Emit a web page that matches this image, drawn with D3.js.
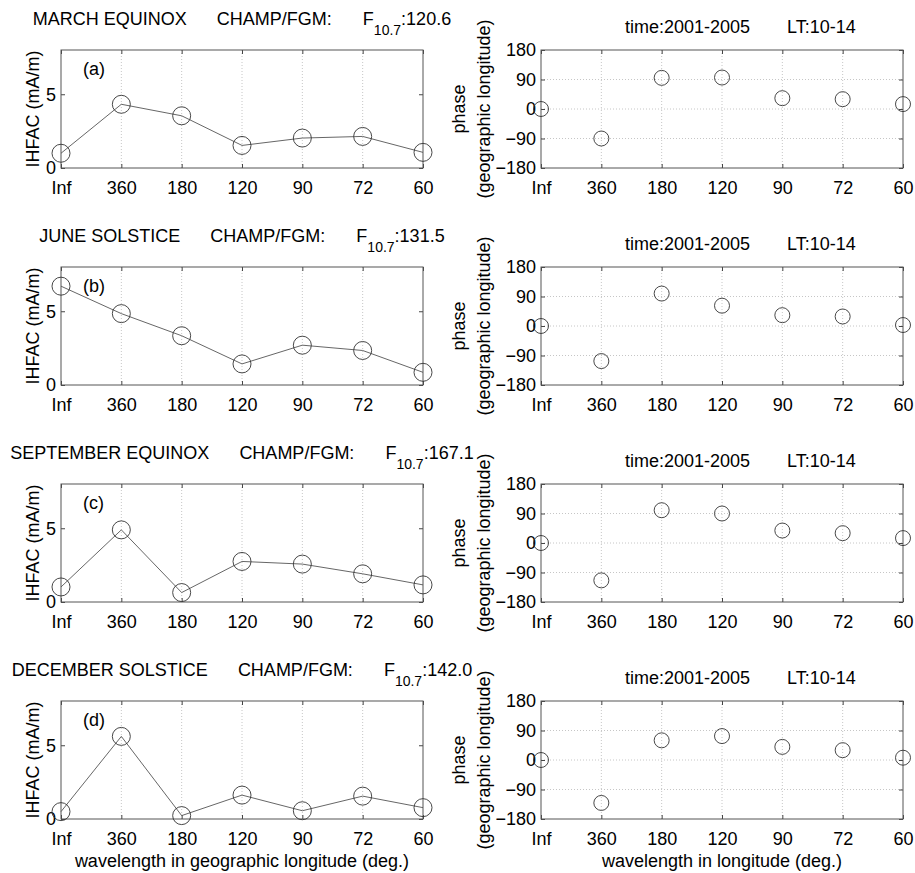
<!DOCTYPE html>
<html>
<head>
<meta charset="utf-8">
<script src="https://cdn.jsdelivr.net/npm/d3@7/dist/d3.min.js"></script>
<style>
  html, body { margin: 0; padding: 0; background: #fff; }
  svg text { font-family: "Liberation Sans", Arial, Helvetica, sans-serif; fill: #000; }
</style>
</head>
<body>
<svg id="chart" width="915" height="873"></svg>
<script>
// ---------------- data ----------------
const categories = ["Inf", "360", "180", "120", "90", "72", "60"];
const seasons = ["MARCH EQUINOX", "JUNE SOLSTICE", "SEPTEMBER EQUINOX", "DECEMBER SOLSTICE"];
const f107Values = ["120.6", "131.5", "167.1", "142.0"];
const panelLetters = ["(a)", "(b)", "(c)", "(d)"];
const ihfacMarch = [1.0, 4.32, 3.54, 1.53, 2.03, 2.14, 1.06];
const ihfacJune = [6.7, 4.84, 3.34, 1.43, 2.7, 2.34, 0.86];
const ihfacSeptember = [1.02, 4.89, 0.64, 2.75, 2.57, 1.91, 1.16];
const ihfacDecember = [0.5, 5.6, 0.23, 1.62, 0.56, 1.55, 0.77];
const phaseMarch = [0, -90, 95, 96, 33, 30, 15];
const phaseJune = [0, -107, 99, 62, 33, 29, 3];
const phaseSeptember = [0, -114, 100, 90, 38, 30, 15];
const phaseDecember = [0, -131, 60, 73, 40, 30, 7];
const ihfacTicks = [0, 5];
const phaseTicks = [-180, -90, 0, 90, 180];
const ihfacDomain = [0, 8];
const phaseDomain = [-180, 180];
const instrumentLabel = "CHAMP/FGM:";
const timeLabel = "time:2001-2005";
const ltLabel = "LT:10-14";
const ihfacAxisLabel = "IHFAC (mA/m)";
const phaseAxisLabel = ["phase", "(geographic longitude)"];
const leftXLabel = "wavelength in geographic longitude (deg.)";
const rightXLabel = "wavelength in longitude (deg.)";

const ihfacSeries = [ihfacMarch, ihfacJune, ihfacSeptember, ihfacDecember];
const phaseSeries = [phaseMarch, phaseJune, phaseSeptember, phaseDecember];

// ---------------- layout ----------------
const FS = 18;
const left = { x0: 61, x1: 423 };
const right = { x0: 541, x1: 903 };
const tops = [50, 267, 484, 701];
const PH = 118;
const titleCenter = (left.x0 + left.x1) / 2;

const svg = d3.select("#chart");

const xLeft = d3.scalePoint().domain(categories).range([left.x0, left.x1]).padding(0);
const xRight = d3.scalePoint().domain(categories).range([right.x0, right.x1]).padding(0);

function drawPanel(g, x, y, yTicks, gridY, x0, x1, top) {
  const bottom = top + PH;
  const grid = g.append("g").attr("stroke", "#b8b8b8").attr("stroke-width", 0.8).attr("stroke-dasharray", "1,2");
  categories.slice(1, -1).forEach(c => {
    grid.append("line").attr("x1", x(c)).attr("x2", x(c)).attr("y1", top).attr("y2", bottom);
  });
  if (gridY) {
    yTicks.slice(1, -1).forEach(t => {
      grid.append("line").attr("x1", x0).attr("x2", x1).attr("y1", y(t)).attr("y2", y(t));
    });
  }
  const ax = g.append("g").attr("transform", `translate(0,${bottom})`)
    .call(d3.axisBottom(x).tickSizeInner(-4).tickSizeOuter(0).tickPadding(13));
  const ay = g.append("g").attr("transform", `translate(${x0},0)`)
    .call(d3.axisLeft(y).tickValues(yTicks).tickSizeInner(-4).tickSizeOuter(0).tickPadding(5));
  const at = g.append("g").attr("transform", `translate(0,${top})`)
    .call(d3.axisTop(x).tickSizeInner(-4).tickSizeOuter(0).tickFormat(""));
  const ar = g.append("g").attr("transform", `translate(${x1},0)`)
    .call(d3.axisRight(y).tickValues(yTicks).tickSizeInner(-4).tickSizeOuter(0).tickFormat(""));
  [ax, ay, at, ar].forEach(a => {
    a.select(".domain").remove();
    a.selectAll("line").attr("stroke", "#444");
    a.selectAll("text").attr("font-size", FS).attr("font-family", null).attr("fill", "#000");
  });
  g.append("rect").attr("x", x0).attr("y", top).attr("width", x1 - x0).attr("height", PH)
    .attr("fill", "none").attr("stroke", "#555").attr("stroke-width", 1);
}

for (let i = 0; i < 4; i++) {
  const top = tops[i];
  const bottom = top + PH;

  // ---- left panel (IHFAC) ----
  const yL = d3.scaleLinear().domain(ihfacDomain).range([bottom, top]);
  const gL = svg.append("g");
  drawPanel(gL, xLeft, yL, ihfacTicks, false, left.x0, left.x1, top);
  const data = categories.map((c, k) => ({ c, v: ihfacSeries[i][k] }));
  gL.append("path").datum(data)
    .attr("d", d3.line().x(d => xLeft(d.c)).y(d => yL(d.v)))
    .attr("fill", "none").attr("stroke", "#555").attr("stroke-width", 0.9);
  gL.selectAll("circle.m").data(data).join("circle")
    .attr("cx", d => xLeft(d.c)).attr("cy", d => yL(d.v)).attr("r", 9)
    .attr("fill", "none").attr("stroke", "#333").attr("stroke-width", 0.9);
  gL.append("text").attr("x", left.x0 + 22).attr("y", top + 25).attr("font-size", FS).text(panelLetters[i]);
  gL.append("text")
    .attr("transform", `translate(39,${(top + bottom) / 2}) rotate(-90)`)
    .attr("text-anchor", "middle").attr("font-size", FS).text(ihfacAxisLabel);

  // title
  const t = svg.append("text").attr("x", titleCenter).attr("y", top - 25)
    .attr("text-anchor", "middle").attr("font-size", FS);
  t.append("tspan").text(seasons[i]);
  t.append("tspan").attr("dx", 30).text(instrumentLabel);
  t.append("tspan").attr("dx", 31).text("F");
  t.append("tspan").attr("font-size", 14).attr("dy", 10).text("10.7");
  t.append("tspan").attr("dy", -10).text(":" + f107Values[i]);

  // ---- right panel (phase) ----
  const yR = d3.scaleLinear().domain(phaseDomain).range([bottom, top]);
  const gR = svg.append("g");
  drawPanel(gR, xRight, yR, phaseTicks, true, right.x0, right.x1, top);
  const pdata = categories.map((c, k) => ({ c, v: phaseSeries[i][k] }));
  gR.selectAll("circle.m").data(pdata).join("circle")
    .attr("cx", d => xRight(d.c)).attr("cy", d => yR(d.v)).attr("r", 7.5)
    .attr("fill", "none").attr("stroke", "#333").attr("stroke-width", 0.9);
  const rt = gR.append("text").attr("x", 625).attr("y", top - 17.5).attr("font-size", FS);
  rt.append("tspan").text(timeLabel);
  rt.append("tspan").attr("x", 787).text(ltLabel);
  gR.append("text")
    .attr("transform", `translate(465,${(top + bottom) / 2}) rotate(-90)`)
    .attr("text-anchor", "middle").attr("font-size", FS).text(phaseAxisLabel[0]);
  gR.append("text")
    .attr("transform", `translate(490,${(top + bottom) / 2}) rotate(-90)`)
    .attr("text-anchor", "middle").attr("font-size", FS).text(phaseAxisLabel[1]);
}

svg.append("text").attr("x", (left.x0 + left.x1) / 2).attr("y", 867)
  .attr("text-anchor", "middle").attr("font-size", FS).text(leftXLabel);
svg.append("text").attr("x", (right.x0 + right.x1) / 2).attr("y", 867)
  .attr("text-anchor", "middle").attr("font-size", FS).text(rightXLabel);
</script>
</body>
</html>
